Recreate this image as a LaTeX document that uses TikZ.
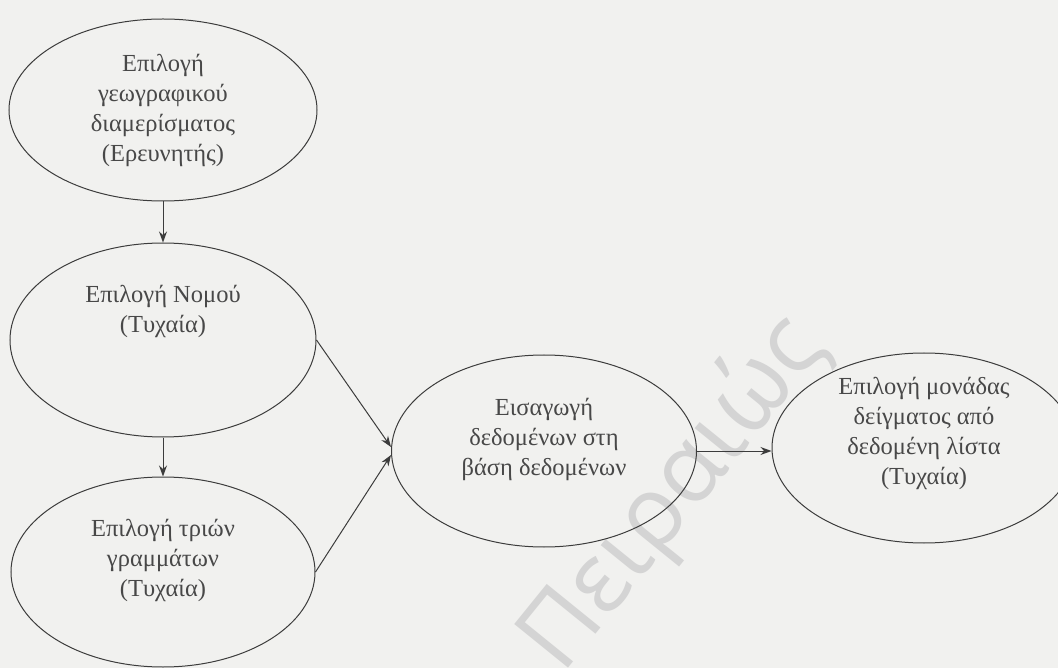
\documentclass[tikz,border=0pt]{standalone}
\usepackage{fontspec}
\setmainfont{Liberation Serif}
\newfontfamily\wmfont{Open Sans}
\usetikzlibrary{shapes.geometric,arrows.meta,calc}
\definecolor{bgc}{RGB}{241,241,239}
\definecolor{ink}{RGB}{60,60,60}
\definecolor{txt}{RGB}{72,72,72}
\definecolor{wmc}{RGB}{212,212,212}
\begin{document}
\begin{tikzpicture}[x=1pt,y=-1pt,
  oval/.style={ellipse,draw=ink,line width=1pt,inner sep=0pt},
  lbl/.style={text=txt,font=\fontsize{24.5}{30}\selectfont,align=center,inner sep=0pt},
  conn/.style={draw=ink,line width=1pt,-{Stealth[length=11pt,width=8pt]}},
  wmark/.style={text=wmc,font=\wmfont\fontsize{97}{100}\selectfont,inner sep=0pt}]
\fill[bgc] (0,0) rectangle (1058,668);
\useasboundingbox (0,0) rectangle (1058,668);
\node[wmark,rotate=51] (wmk) at (674,494) {Πειραιώς};
\node[oval,minimum width=308pt,minimum height=182pt] (e1) at (163,110) {};
\node[oval,minimum width=306pt,minimum height=194pt] (e2) at (163,340) {};
\node[oval,minimum width=304pt,minimum height=190pt] (e3) at (163,572) {};
\node[oval,minimum width=305pt,minimum height=192pt] (e4) at (544,451) {};
\node[oval,minimum width=304pt,minimum height=190pt] (e5) at (924,448) {};
\node[lbl] (t1) at (163,110) {Επιλογή\\γεωγραφικού\\διαμερίσματος\\(Ερευνητής)};
\node[lbl] (t2) at (163,311) {Επιλογή Νομού\\(Τυχαία)};
\node[lbl] (t3) at (163,560) {Επιλογή τριών\\γραμμάτων\\(Τυχαία)};
\node[lbl] (t4) at (544,439) {Εισαγωγή\\δεδομένων στη\\βάση δεδομένων};
\node[lbl] (t5) at (924,433) {Επιλογή μονάδας\\δείγματος από\\δεδομένη λίστα\\(Τυχαία)};
\draw[conn] (e1.south) -- (e2.north);
\draw[conn] (e2.south) -- (e3.north);
\draw[conn] (e2.east) -- ([yshift=4pt]e4.west);
\draw[conn] (e3.east) -- ([yshift=-4pt]e4.west);
\draw[conn] (e4.east) -- (e4.east -| e5.west);
\end{tikzpicture}
\end{document}
